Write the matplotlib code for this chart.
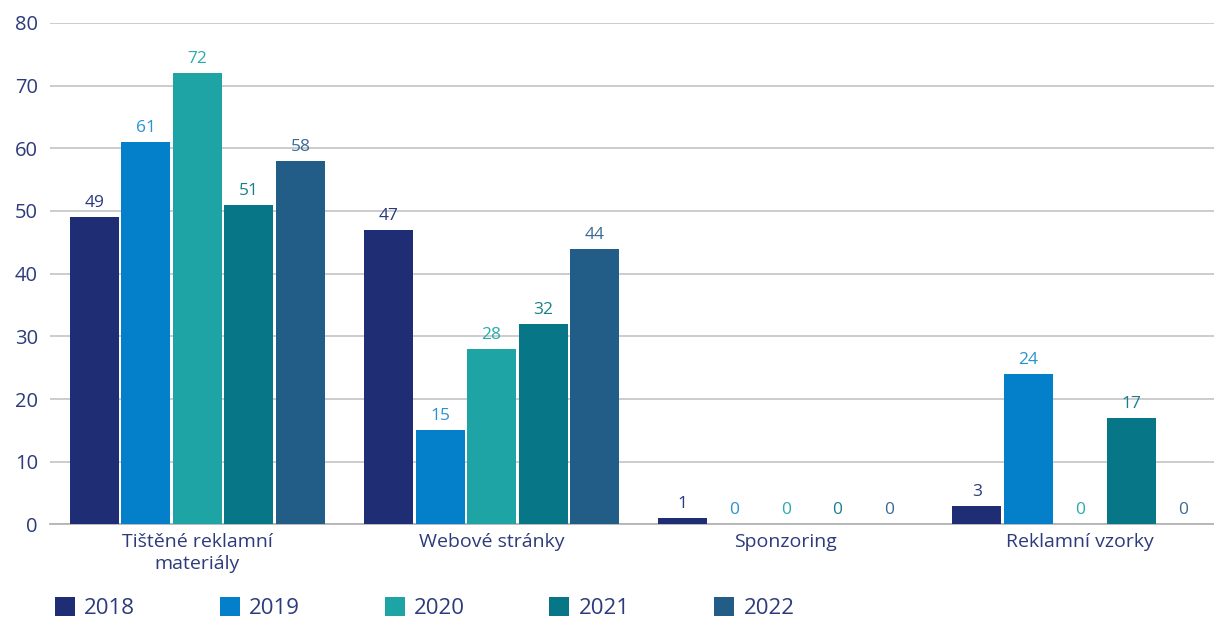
import matplotlib.pyplot as plt
from matplotlib.transforms import offset_copy
import numpy as np

plt.rcParams['font.family'] = ['Open Sans', 'DejaVu Sans']

# data
categories = ['Tištěné reklamní\nmateriály', 'Webové stránky', 'Sponzoring', 'Reklamní vzorky']
years = ['2018', '2019', '2020', '2021', '2022']
v2018 = [49, 47, 1, 3]
v2019 = [61, 15, 0, 24]
v2020 = [72, 28, 0, 0]
v2021 = [51, 32, 0, 17]
v2022 = [58, 44, 0, 0]
series = [v2018, v2019, v2020, v2021, v2022]

colors = ['#1e2d74', '#0380c9', '#1ea4a4', '#077788', '#225d88']
label_colors = ['#2b3a7e', '#2b92d2', '#2aabab', '#197f8e', '#3b6a95']
text_col = '#2d3a7c'

fig = plt.figure(figsize=(12.14, 6.19), dpi=100)
ax = fig.add_axes([0.0415, 0.1527, 0.9692, 0.8103])

x = np.arange(len(categories))
pitch = 0.175
width = 0.1666
# value labels sit a fixed 10 px above each bar
lab_tr = offset_copy(ax.transData, fig=fig, x=0, y=10, units='dots')
for i, (vals, c, lc, yr) in enumerate(zip(series, colors, label_colors, years)):
    pos = x + (i - 2) * pitch
    ax.bar(pos, vals, width=width, color=c, label=yr, zorder=3)
    for px, v in zip(pos, vals):
        ax.text(px, v, f'{v:.0f}', ha='center', va='baseline',
                fontsize=12.5, color=lc, zorder=4, transform=lab_tr)

ax.set_xlim(-0.5, 3.5)
ax.set_ylim(0, 80)
ax.set_yticks(range(0, 81, 10))
ax.yaxis.grid(True, color='#c8c8c8', linewidth=1.3, zorder=0)
ax.set_axisbelow(True)
for s in ['top', 'right', 'left']:
    ax.spines[s].set_visible(False)
ax.spines['bottom'].set_color('#b4b4b4')
ax.spines['bottom'].set_linewidth(1.3)
ax.tick_params(axis='y', length=0, pad=9, labelsize=14.5, labelcolor=text_col)
ax.tick_params(axis='x', length=0, pad=6, labelsize=14, labelcolor=text_col)
ax.set_xticks(x)
ax.set_xticklabels(categories, linespacing=1.3)

leg = fig.legend(loc='lower left', bbox_to_anchor=(55 / 1214, 0.0), ncol=5,
                 frameon=False, fontsize=16, handlelength=0.9, handleheight=0.9,
                 handletextpad=0.42, columnspacing=3.8, borderpad=0.0,
                 borderaxespad=0.0, labelcolor=text_col)

fig.savefig('out.png', dpi=100)
